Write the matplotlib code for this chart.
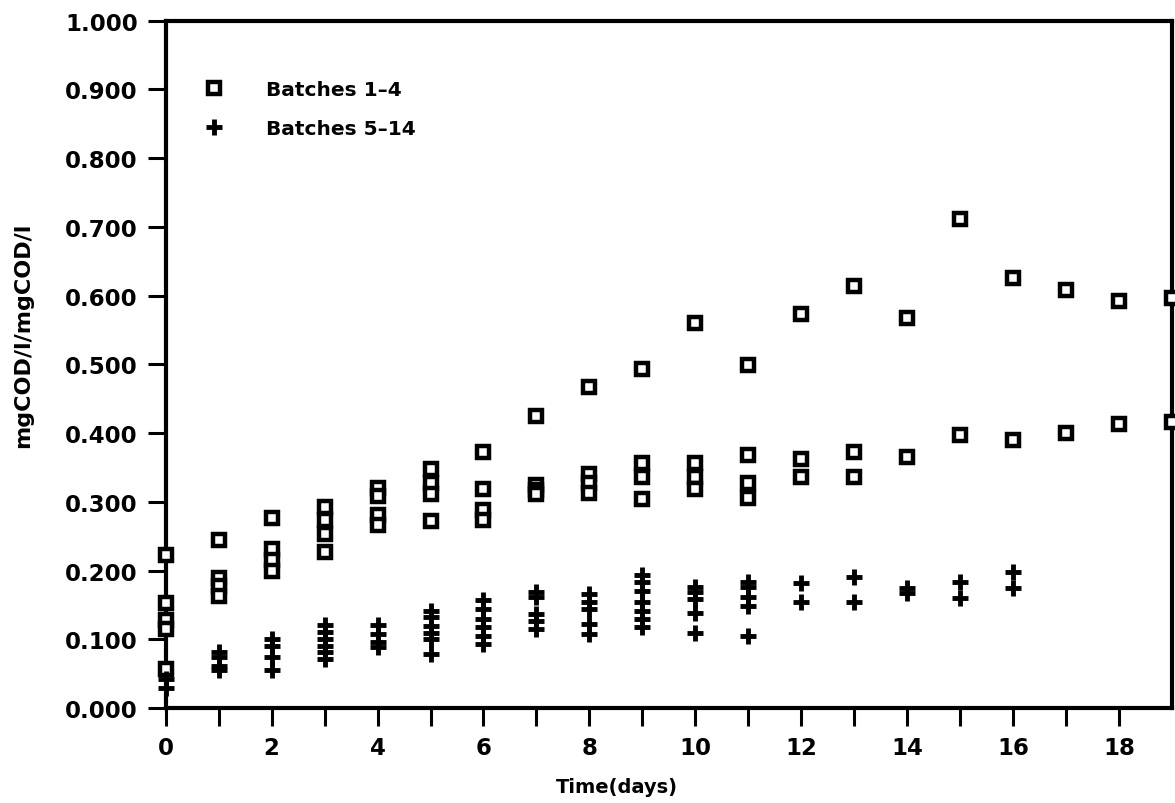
import matplotlib
matplotlib.use("Agg")
import matplotlib.pyplot as plt

# Batches 1-4 (open squares): day -> measured ratios
batch_a_days = [0, 1, 2, 3, 4, 5, 6, 7, 8, 9, 10, 11, 12, 13, 14, 15, 16, 17, 18, 19]
batch_a_vals = [
    [0.223, 0.153, 0.128, 0.115, 0.057],
    [0.245, 0.190, 0.178, 0.163],
    [0.277, 0.231, 0.215, 0.199],
    [0.292, 0.274, 0.254, 0.227],
    [0.320, 0.308, 0.281, 0.266],
    [0.348, 0.327, 0.312, 0.272],
    [0.373, 0.319, 0.288, 0.273],
    [0.425, 0.325, 0.318, 0.312],
    [0.467, 0.341, 0.327, 0.313],
    [0.494, 0.356, 0.336, 0.304],
    [0.560, 0.357, 0.336, 0.319],
    [0.499, 0.368, 0.327, 0.305],
    [0.574, 0.363, 0.336],
    [0.614, 0.373, 0.336],
    [0.568, 0.365],
    [0.712, 0.397],
    [0.625, 0.390],
    [0.608, 0.400],
    [0.592, 0.413],
    [0.597, 0.416],
]

# Batches 5-14 (plus signs)
batch_b_days = [0, 1, 2, 3, 4, 5, 6, 7, 8, 9, 10, 11, 12, 13, 14, 15, 16]
batch_b_vals = [
    [0.043, 0.030],
    [0.082, 0.074, 0.062, 0.055],
    [0.101, 0.091, 0.074, 0.055],
    [0.121, 0.111, 0.101, 0.091, 0.082, 0.072],
    [0.121, 0.108, 0.096, 0.089],
    [0.142, 0.132, 0.120, 0.110, 0.101, 0.079],
    [0.157, 0.144, 0.130, 0.118, 0.105, 0.093],
    [0.169, 0.161, 0.137, 0.127, 0.115],
    [0.166, 0.154, 0.144, 0.122, 0.108],
    [0.193, 0.183, 0.171, 0.154, 0.142, 0.130, 0.118],
    [0.176, 0.169, 0.159, 0.139, 0.110],
    [0.183, 0.176, 0.161, 0.149, 0.105],
    [0.182, 0.154],
    [0.191, 0.154],
    [0.175, 0.167],
    [0.183, 0.160],
    [0.198, 0.175],
]

y_ticks = [0.0, 0.1, 0.2, 0.3, 0.4, 0.5, 0.6, 0.7, 0.8, 0.9, 1.0]
x_label_ticks = [0, 2, 4, 6, 8, 10, 12, 14, 16, 18]


def flatten(days, vals):
    xs, ys = [], []
    for d, vs in zip(days, vals):
        for v in vs:
            xs.append(d)
            ys.append(v)
    return xs, ys


plt.rcParams['font.family'] = ['DejaVu Sans']
plt.rcParams['font.weight'] = 'bold'

fig = plt.figure(figsize=(11.75, 8.04), dpi=100)
ax = fig.add_axes([0.141, 0.118, 0.8565, 0.855])

ax_x, ax_y = flatten(batch_a_days, batch_a_vals)
bx_x, bx_y = flatten(batch_b_days, batch_b_vals)

# clip_on=False so the day-0 marks sit on the left spine; the day-19 ones
# run off the figure edge on their own
ax.plot(ax_x, ax_y, linestyle='none', marker='s', markersize=8.5,
        markerfacecolor='white', markeredgecolor='black', markeredgewidth=3.2,
        clip_on=False, label='Batches 1\u20134', zorder=3)
ax.plot(bx_x, bx_y, linestyle='none', marker='+', markersize=11,
        markeredgecolor='black', markeredgewidth=3.5,
        clip_on=False, label='Batches 5\u201314', zorder=3)

ax.set_xlim(0, 19)
ax.set_ylim(0, 1.0)

ax.set_yticks(y_ticks)
ax.set_yticklabels([f"{t:.3f}" for t in y_ticks])
ax.set_xticks(range(0, 19))
ax.set_xticklabels([str(t) if t in x_label_ticks else '' for t in range(0, 19)])

ax.tick_params(axis='both', direction='out', length=13, width=2.2,
               labelsize=16.5, pad=7)
for lbl in ax.get_xticklabels() + ax.get_yticklabels():
    lbl.set_fontweight('bold')

for side in ['left', 'bottom', 'top', 'right']:
    ax.spines[side].set_linewidth(3)

ax.set_xlabel('Time(days)', fontsize=14, fontweight='bold')
ax.xaxis.set_label_coords(0.448, -0.10)
ax.set_ylabel('mgCOD/l/mgCOD/l', fontsize=16, fontweight='bold')
ax.yaxis.set_label_coords(-0.132, 0.544)

leg = ax.legend(loc='upper left', bbox_to_anchor=(0.02, 0.926), frameon=False,
                fontsize=14.5, handletextpad=1.6, labelspacing=1.0,
                borderaxespad=0.0)
for t in leg.get_texts():
    t.set_fontweight('bold')

fig.savefig('out.png', dpi=100)
